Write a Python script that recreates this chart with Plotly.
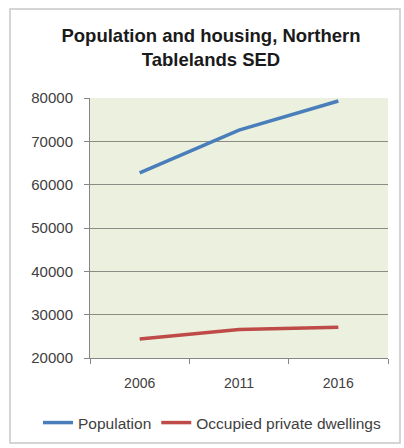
import plotly.graph_objects as go

# Census years and series values
years = ["2006", "2011", "2016"]
population = [62700, 72600, 79300]
dwellings = [24400, 26600, 27100]

y_ticks = [20000, 30000, 40000, 50000, 60000, 70000, 80000]

font_family = "Liberation Sans, Arial, sans-serif"

fig = go.Figure()
fig.add_trace(go.Scatter(
    x=years, y=population, mode="lines", name="Population",
    line=dict(color="#4A7EBB", width=3.5),
))
fig.add_trace(go.Scatter(
    x=years, y=dwellings, mode="lines", name="Occupied private dwellings",
    line=dict(color="#BE4B48", width=3.5),
))

fig.update_layout(
    width=404, height=448,
    margin=dict(l=90, r=16, t=98, b=90, autoexpand=False),
    paper_bgcolor="white",
    plot_bgcolor="#EBF1DE",
    font=dict(family=font_family, size=13, color="#404040"),
    title=dict(
        text="<b>Population and housing, Northern<br>Tablelands SED</b>",
        x=211 / 404, xref="container", xanchor="center",
        y=1 - 42 / 448, yref="container", yanchor="top",
        font=dict(family=font_family, size=18.5, color="#1a1a1a"),
    ),
    showlegend=True,
    legend=dict(
        orientation="h", x=-52 / 298, xanchor="left",
        y=-48 / 260, yanchor="top",
        font=dict(family=font_family, size=15.5, color="#404040"),
        itemwidth=30, tracegroupgap=0, bgcolor="rgba(0,0,0,0)",
    ),
    xaxis=dict(
        type="category", showgrid=False, showline=True, linecolor="#868686",
        linewidth=1, ticks="outside", tickson="boundaries", ticklen=5,
        tickcolor="#868686", range=[-0.5, 2.5], ticklabelstandoff=12,
        automargin=False,
        tickfont=dict(size=14, color="#404040"),
    ),
    yaxis=dict(
        range=[20000, 80000], tickvals=y_ticks, tickformat="d", showgrid=True,
        gridcolor="#8C8C84", gridwidth=1, showline=True, linecolor="#868686",
        ticks="outside", ticklen=5, tickcolor="#868686", zeroline=False,
        ticklabelstandoff=8, automargin=False,
        tickfont=dict(size=15, color="#404040"),
    ),
    shapes=[dict(
        type="rect", xref="paper", yref="paper",
        x0=-80 / 298, x1=1 + 12 / 298, y0=-85 / 260, y1=1 + 89 / 260,
        line=dict(color="#C8C8C8", width=1.5), fillcolor="rgba(0,0,0,0)",
        layer="below",
    )],
)

fig.write_html("out.html")
